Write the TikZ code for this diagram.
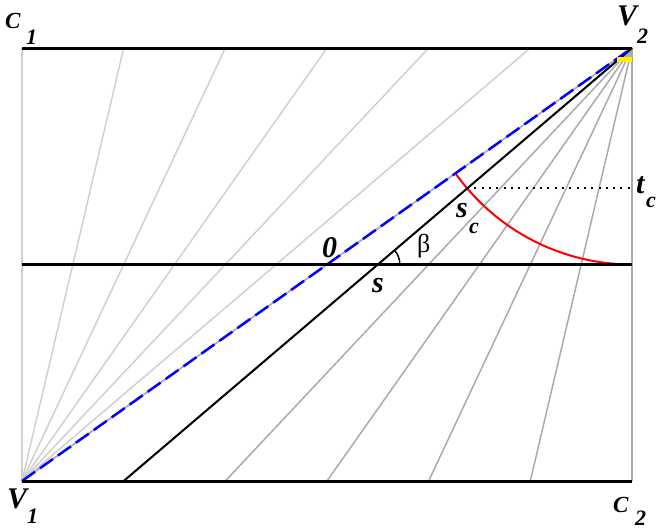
\documentclass[tikz,border=0pt]{standalone}
\usepackage{fontspec}
\setmainfont{Liberation Serif}
\usetikzlibrary{calc}

\definecolor{fanlight}{RGB}{208,208,208}
\definecolor{fandark}{RGB}{170,170,170}
\definecolor{markyellow}{RGB}{255,240,0}

% letter with a lowered index
\newcommand{\sublab}[4]{\makebox[#4pt][l]{#1}\raisebox{-#3pt}{\fontsize{22}{22}\selectfont #2}}

\begin{document}
\begin{tikzpicture}[x=1pt, y=-1pt]
    % Styles
    \tikzstyle{border} = [line width=3pt]
    \tikzstyle{fanA} = [fanlight, line width=1.5pt]
    \tikzstyle{fanB} = [fandark, line width=1.5pt]
    \tikzstyle{charline} = [line width=2pt]
    \tikzstyle{bluedash} = [blue, line width=2.5pt, dash pattern=on 16pt off 6pt]
    \tikzstyle{redarc} = [red, line width=2pt]
    \tikzstyle{dotline} = [line width=2pt, dash pattern=on 2pt off 5.3pt]
    \tikzstyle{lbl} = [inner sep=0pt, anchor=base west, font=\fontsize{30}{30}\selectfont\bfseries\itshape]
    \tikzstyle{clbl} = [lbl, font=\fontsize{23}{23}\selectfont\bfseries\itshape]

    \useasboundingbox (0,0) rectangle (657,530);

    % === Corners ===
    \coordinate (V1) at (22,481);
    \coordinate (V2) at (632,48);
    \coordinate (C1) at (22,48);
    \coordinate (C2) at (632,481);
    \coordinate (M1) at ($(C1)!0.5!(V1)$);
    \coordinate (M2) at ($(V2)!0.5!(C2)$);

    % === Fan from V1 ===
    \foreach \k in {0,...,6} {
        \coordinate (T\k) at ($(C1)!\k/6!(V2)$);
        \draw [fanA] (V1) -- (T\k);
    }

    % === Fan from V2 ===
    \foreach \k in {0,...,6} {
        \coordinate (B\k) at ($(V1)!\k/6!(C2)$);
        \draw [fanB] (V2) -- (B\k);
    }

    % === Characteristics ===
    \coordinate (O) at ($(V1)!0.5!(V2)$);
    \coordinate (S) at ($(B1)!0.5!(V2)$);
    \coordinate (Q) at ($(V2)!216.5pt!(V1)$);
    \coordinate (Sc) at ($(V2)!216.5pt!(B1)$);
    \draw [redarc] (Q) arc[start angle=144.63, end angle=90, radius=216.5];
    \draw [charline] (B1) -- (V2);
    \draw [bluedash] (V1) -- (V2);
    \draw [dotline] (Sc) -- (Sc -| C2);
    \draw [line width=1.5pt] ($(S)+(22,0)$) arc[start angle=0, end angle=-40.5, radius=22];
    \fill [markyellow] (617,57) rectangle (632,62);

    % === Horizontal lines ===
    \draw [border] (C1) -- (V2);
    \draw [border] (M1) -- (M2);
    \draw [border] (V1) -- (C2);

    % === Labels ===
    \node [clbl] (lC1) at (5,28) {\sublab{C}{1}{17}{21}};
    \node [lbl] (lV2) at (617,25) {\sublab{V}{2}{18}{20}};
    \node [lbl] (lV1) at (7,508) {\sublab{V}{1}{15}{20}};
    \node [clbl] (lC2) at (613,512) {\sublab{C}{2}{13}{22}};
    \node [lbl] (lO) at (322,257) {0};
    \node [lbl] (lS) at (372,292) {s};
    \node [lbl, font=\fontsize{26}{26}\selectfont] (lBeta) at (417,252) {β};
    \node [lbl] (lSc) at (456,217) {\sublab{s}{c}{16}{13}};
    \node [lbl] (lTc) at (636,193) {\sublab{t}{c}{14}{10}};
\end{tikzpicture}
\end{document}
